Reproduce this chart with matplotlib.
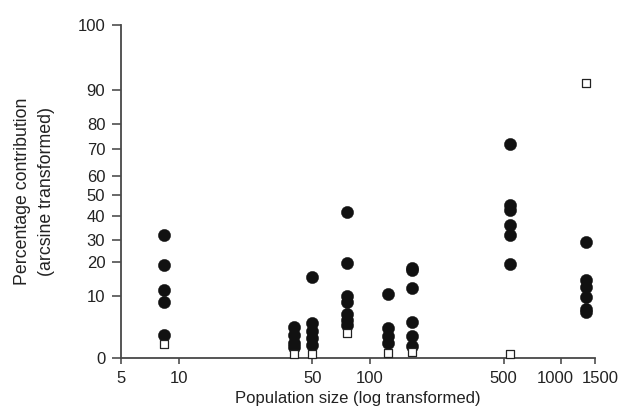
import numpy as np
import matplotlib
matplotlib.use("Agg")
import matplotlib.pyplot as plt
from matplotlib.transforms import ScaledTranslation

plt.rcParams["font.family"] = ["Liberation Sans", "DejaVu Sans"]

# population sizes (x) and percentage contributions (y)
circle_x = [8.4] * 5 + [40] * 4 + [50] * 5 + [76] * 7 + [125] * 4 + [165] * 6 + [540] * 6 + [1350] * 6
circle_y = [
    32, 19, 11.8, 9.1, 3.7,
    5.1, 3.8, 2.5, 1.8,
    15.7, 5.7, 4.4, 3.2, 2.1,
    41.8, 19.5, 10.2, 9.1, 7.2, 6.2, 5.3,
    10.8, 4.8, 3.5, 2.4,
    18.3, 17.5, 12.3, 5.9, 3.5, 1.9,
    72, 45.2, 42.8, 36.1, 32, 19.3,
    29.1, 14.7, 12.8, 9.9, 7.9, 7.4,
]
square_x = [8.4, 40, 50, 76, 125, 165, 540, 1350]
square_y = [2.3, 0.6, 0.6, 4.1, 0.75, 1.0, 0.65, 91.1]

x_ticks = [5, 10, 50, 100, 500, 1000, 1500]
y_ticks = [0, 10, 20, 30, 40, 50, 60, 70, 80, 90, 100]
# where each y tick sits on the (arcsine-like) axis, as a fraction of its height
y_tick_frac = [0, 0.185, 0.289, 0.355, 0.427, 0.488, 0.547, 0.626, 0.703, 0.803, 1.0]


def fwd(p):
    return np.interp(p, y_ticks, y_tick_frac)


def inv(f):
    return np.interp(f, y_tick_frac, y_ticks)


fig = plt.figure(figsize=(6.22, 4.18), dpi=100)
ax = fig.add_axes([0.1945, 0.1435, 0.762, 0.7974])

ax.scatter(circle_x, circle_y, s=78, c="#111111", edgecolors="#111111",
           linewidths=0.3, zorder=3, clip_on=False)
ax.scatter(square_x, square_y, s=40, marker="s", facecolors="white",
           edgecolors="#222222", linewidths=0.9, zorder=4, clip_on=False)

ax.set_xscale("log")
ax.set_yscale("function", functions=(fwd, inv))
ax.set_xlim(5, 1500)
ax.set_ylim(0, 100)

ax.set_xticks(x_ticks)
ax.set_xticklabels([str(t) for t in x_ticks])
ax.xaxis.set_minor_locator(matplotlib.ticker.NullLocator())
ax.set_yticks(y_ticks)
ax.set_yticklabels([str(t) for t in y_ticks])
ax.yaxis.set_minor_locator(matplotlib.ticker.NullLocator())

for s in ["top", "right"]:
    ax.spines[s].set_visible(False)
for s in ["left", "bottom"]:
    ax.spines[s].set_color("#484848")
    ax.spines[s].set_linewidth(1.3)

ax.tick_params(axis="x", length=4, width=1.1, color="#404040", pad=5,
               labelsize=12, labelcolor="#222222")
ax.tick_params(axis="y", length=6.3, width=1.1, color="#404040", pad=5,
               labelsize=12, labelcolor="#222222")

# nudge the crowded 1000 / 1500 labels apart
labels = ax.get_xticklabels()
labels[5].set_transform(labels[5].get_transform() + ScaledTranslation(-0.06, 0, fig.dpi_scale_trans))
labels[6].set_transform(labels[6].get_transform() + ScaledTranslation(0.05, 0, fig.dpi_scale_trans))

ax.set_xlabel("Population size (log transformed)", fontsize=12, color="#222222")
ax.set_ylabel("Percentage contribution\n(arcsine transformed)", fontsize=12.8,
              color="#222222", linespacing=1.55)
ax.yaxis.set_label_coords(-0.139, 0.5)

fig.savefig("out.png", dpi=100)
